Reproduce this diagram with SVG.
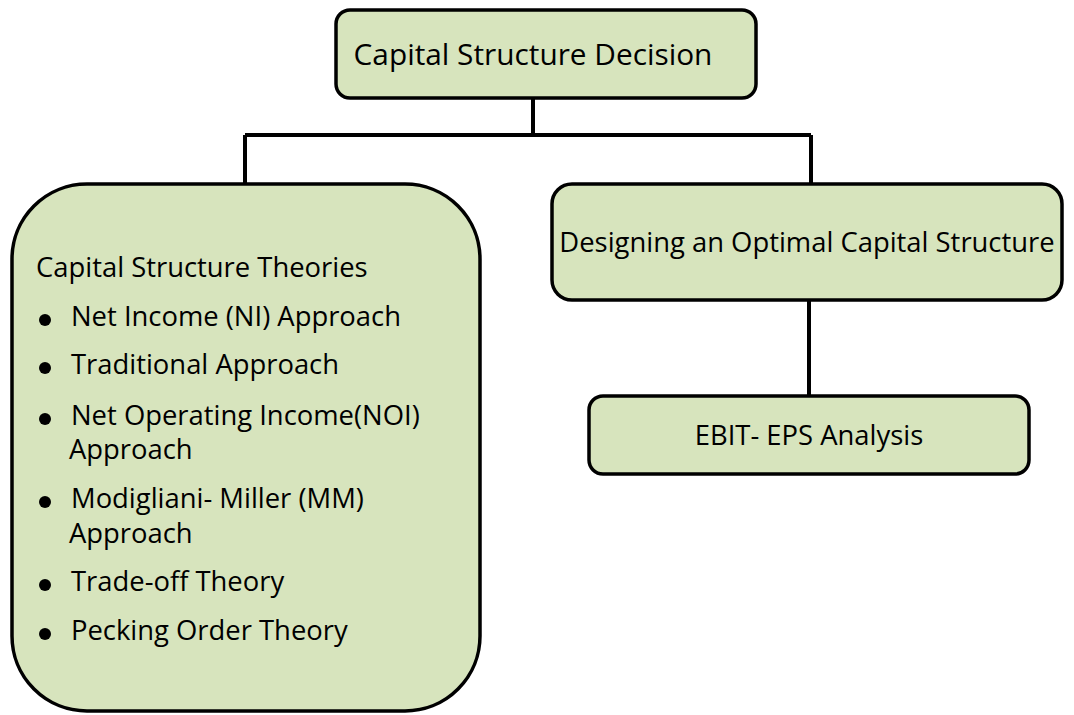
<svg xmlns="http://www.w3.org/2000/svg" width="1074" height="715" viewBox="0 0 1074 715">
<style>
.box{fill:#d7e4bd;stroke:#000;stroke-width:3.5}
.conn{fill:none;stroke:#000;stroke-width:4}
text{font-family:"Open Sans","Noto Sans",sans-serif;fill:#000}
.t{font-size:29.8px}
.l{font-size:27.4px}
</style>
<rect width="1074" height="715" fill="#fff"/>
<g id="connectors">
<path class="conn" d="M533 99 V135 M245 135 H811 M245 135 V184 M811 135 V184 M809 300 V396"/>
</g>
<g id="node-top">
<rect class="box" x="336" y="10" width="420" height="88" rx="14"/>
<text class="t" x="533" y="65" text-anchor="middle">Capital Structure Decision</text>
</g>
<g id="node-theories">
<rect class="box" x="12" y="184" width="468" height="527" rx="75"/>
<text class="l" x="36" y="277">Capital Structure Theories</text>
<circle cx="45" cy="320" r="6"/>
<text class="l" x="71" y="326">Net Income (NI) Approach</text>
<circle cx="45" cy="368" r="6"/>
<text class="l" x="71" y="374">Traditional Approach</text>
<circle cx="45" cy="419" r="6"/>
<text class="l" x="71" y="425">Net Operating Income(NOI)</text>
<text class="l" x="69" y="459">Approach</text>
<circle cx="45" cy="502" r="6"/>
<text class="l" x="71" y="508">Modigliani- Miller (MM)</text>
<text class="l" x="69" y="543">Approach</text>
<circle cx="45" cy="585" r="6"/>
<text class="l" x="71" y="591">Trade-off Theory</text>
<circle cx="45" cy="634" r="6"/>
<text class="l" x="71" y="640">Pecking Order Theory</text>
</g>
<g id="node-designing">
<rect class="box" x="552" y="184" width="510" height="116" rx="20"/>
<text class="l" x="807" y="252" text-anchor="middle">Designing an Optimal Capital Structure</text>
</g>
<g id="node-ebit">
<rect class="box" x="589" y="396" width="440" height="78" rx="14"/>
<text class="l" x="809" y="445" text-anchor="middle">EBIT- EPS Analysis</text>
</g>
</svg>
